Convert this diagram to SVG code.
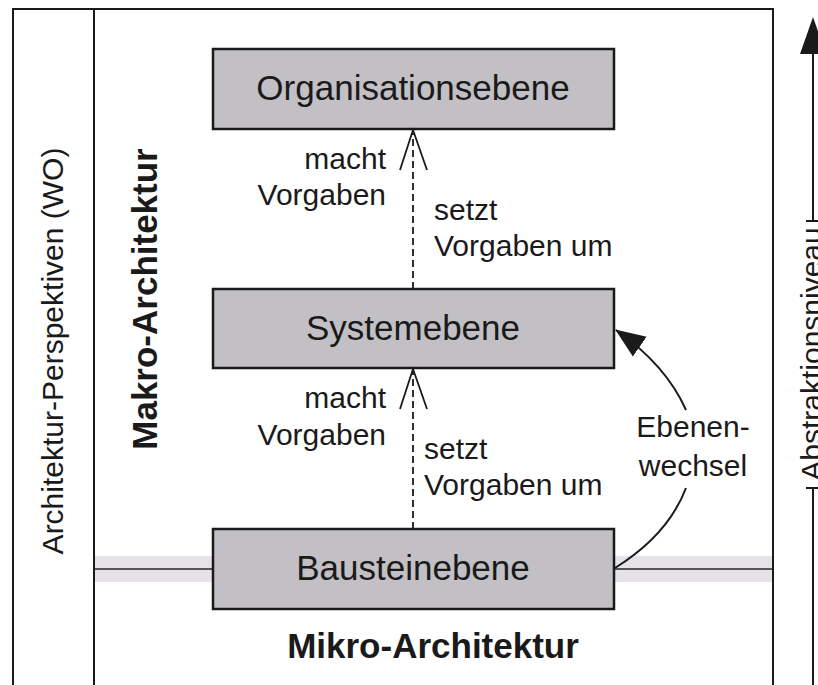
<svg xmlns="http://www.w3.org/2000/svg" width="818" height="685" viewBox="0 0 818 685">
<style>
  text { font-family: "Liberation Sans", Arial, sans-serif; fill: #1a1a1a; }
  .box { fill: #c2c0c4; stroke: #1a1a1a; stroke-width: 2.5; }
  .boxlbl { font-size: 35px; text-anchor: middle; }
  .lbl { font-size: 30px; }
  .bold { font-size: 35px; font-weight: bold; }
  .frame { stroke: #1a1a1a; stroke-width: 2; fill: none; }
  .dash { stroke: #1a1a1a; stroke-width: 1.8; stroke-dasharray: 7 4; fill: none; }
  .open { stroke: #1a1a1a; stroke-width: 1.8; fill: none; }
  .curve { stroke: #1a1a1a; stroke-width: 2; fill: none; }
</style>
<defs>
  <marker id="filled" markerWidth="30" markerHeight="26" refX="29" refY="12" orient="auto" markerUnits="userSpaceOnUse" viewBox="0 0 30 24">
    <path d="M0,0 L30,12 L0,24 Z" fill="#1a1a1a"/>
  </marker>
</defs>
<rect width="818" height="685" fill="#ffffff"/>

<!-- frame -->
<g id="frame">
  <rect x="94" y="556" width="679" height="26" fill="#e6e3e8"/>
  <line x1="94" y1="569" x2="773" y2="569" stroke="#555" stroke-width="2"/>
  <polyline class="frame" points="13,685 13,9 773,9 773,685"/>
  <line class="frame" x1="94" y1="9" x2="94" y2="685"/>
</g>

<g id="perspektiven">
  <text class="lbl" transform="translate(63,351) rotate(-90)" text-anchor="middle">Architektur-Perspektiven (WO)</text>
</g>
<g id="makro">
  <text class="bold" transform="translate(157,299) rotate(-90)" text-anchor="middle">Makro-Architektur</text>
</g>
<g id="mikro">
  <text class="bold" x="433" y="658" text-anchor="middle">Mikro-Architektur</text>
</g>

<!-- abstraction axis -->
<g id="abstraktion">
  <line x1="813" y1="50" x2="813" y2="221" stroke="#1a1a1a" stroke-width="2"/>
  <line x1="806" y1="221" x2="818" y2="221" stroke="#1a1a1a" stroke-width="2"/>
  <line x1="813" y1="488" x2="813" y2="685" stroke="#1a1a1a" stroke-width="2"/>
  <line x1="806" y1="488" x2="818" y2="488" stroke="#1a1a1a" stroke-width="2"/>
  <polygon points="813,17 800,54 826,54" fill="#1a1a1a"/>
  <text class="lbl" transform="translate(822,354) rotate(-90)" text-anchor="middle">Abstraktionsniveau</text>
</g>

<!-- nodes -->
<g id="organisationsebene">
  <rect class="box" x="213" y="49" width="401" height="80"/>
  <text class="boxlbl" x="413" y="100">Organisationsebene</text>
</g>
<g id="systemebene">
  <rect class="box" x="213" y="289" width="401" height="79"/>
  <text class="boxlbl" x="413" y="340">Systemebene</text>
</g>
<g id="bausteinebene">
  <rect class="box" x="213" y="529" width="401" height="80"/>
  <text class="boxlbl" x="413" y="580">Bausteinebene</text>
</g>

<!-- connectors -->
<g id="connectors">
  <line class="dash" x1="413" y1="289" x2="413" y2="131"/>
  <polyline class="open" points="400,170 413,130 427,170"/>
  <line class="dash" x1="413" y1="529" x2="413" y2="370"/>
  <polyline class="open" points="400,409 413,369 427,409"/>
  <path class="curve" d="M615,568 Q668,535 686,488"/>
  <path class="curve" d="M686,410 Q666,365 616,330" marker-end="url(#filled)"/>
</g>

<!-- labels -->
<g id="labels">
  <text class="lbl" x="386" y="169" text-anchor="end">macht</text>
  <text class="lbl" x="386" y="205" text-anchor="end">Vorgaben</text>
  <text class="lbl" x="434" y="220">setzt</text>
  <text class="lbl" x="434" y="256">Vorgaben um</text>
  <text class="lbl" x="386" y="408" text-anchor="end">macht</text>
  <text class="lbl" x="386" y="445" text-anchor="end">Vorgaben</text>
  <text class="lbl" x="424" y="459">setzt</text>
  <text class="lbl" x="424" y="495">Vorgaben um</text>
  <text class="lbl" x="693" y="437" text-anchor="middle">Ebenen-</text>
  <text class="lbl" x="693" y="476" text-anchor="middle">wechsel</text>
</g>
</svg>
